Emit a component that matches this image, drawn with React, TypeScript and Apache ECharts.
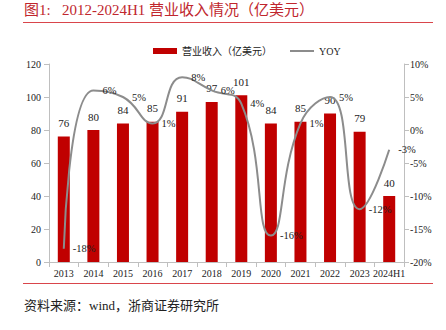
import React, { useEffect, useRef } from "react";
import * as echarts from "echarts";

const categories = ["2013", "2014", "2015", "2016", "2017", "2018", "2019", "2020", "2021", "2022", "2023", "2024H1"];
const revenue = [76, 80, 84, 85, 91, 97, 101, 84, 85, 90, 79, 40];
const yoy = [-18, 6, 5, 1, 8, 6, 4, -16, 1, 5, -12, -3];
const leftTicks = { min: 0, max: 120, interval: 20 };
const rightTicks = { min: -20, max: 10, interval: 5 };

const titleText = "图1:   2012-2024H1 营业收入情况（亿美元）";
const sourceText = "资料来源：wind，浙商证券研究所";
const revenueName = "营业收入（亿美元）";
const yoyName = "YOY";

const FONT = "'Liberation Serif', 'Times New Roman', 'Noto Sans CJK SC', serif";
const RED = "#c00000";

export default function App() {
  const ref = useRef<HTMLDivElement>(null);
  useEffect(() => {
    const chart = echarts.init(ref.current!, null, { renderer: "svg" });
    chart.setOption({
      animation: false,
      backgroundColor: "#ffffff",
      textStyle: { fontFamily: FONT },
      graphic: [
        {
          type: "text",
          left: 24,
          top: 2,
          style: { text: titleText, fill: "#c0262d", font: `15px ${FONT}` },
        },
        {
          type: "line",
          shape: { x1: 23, y1: 22.5, x2: 433, y2: 22.5 },
          style: { stroke: "#d9454b", lineWidth: 1 },
        },
        {
          type: "line",
          shape: { x1: 23, y1: 283.5, x2: 433, y2: 283.5 },
          style: { stroke: "#d9454b", lineWidth: 1 },
        },
        {
          type: "text",
          left: 24,
          top: 299,
          style: { text: sourceText, fill: "#222", font: `13px ${FONT}` },
        },
      ],
      legend: {
        top: 41,
        left: 148,
        itemGap: 18,
        itemWidth: 24,
        itemHeight: 6,
        textStyle: { fontFamily: FONT, fontSize: 10, color: "#222" },
        data: [
          { name: revenueName, icon: "rect" },
          { name: yoyName, icon: "path://M0,0H24V2H0Z" },
        ],
      },
      grid: { left: 49, right: 42, top: 64, bottom: 68 },
      xAxis: {
        type: "category",
        data: categories,
        axisLine: { lineStyle: { color: "#bfbfbf" } },
        axisTick: { show: true, alignWithLabel: false, lineStyle: { color: "#bfbfbf" } },
        axisLabel: { color: "#222", fontSize: 10, fontFamily: FONT, margin: 6, interval: 0 },
      },
      yAxis: [
        {
          type: "value",
          min: leftTicks.min,
          max: leftTicks.max,
          interval: leftTicks.interval,
          splitLine: { show: false },
          axisLine: { show: true, lineStyle: { color: "#bfbfbf" } },
          axisTick: { show: true, lineStyle: { color: "#bfbfbf" } },
          axisLabel: { color: "#222", fontSize: 10, fontFamily: FONT, margin: 8 },
        },
        {
          type: "value",
          min: rightTicks.min,
          max: rightTicks.max,
          interval: rightTicks.interval,
          splitLine: { show: false },
          axisLine: { show: true, lineStyle: { color: "#bfbfbf" } },
          axisTick: { show: true, lineStyle: { color: "#bfbfbf" } },
          axisLabel: { color: "#222", fontSize: 10, fontFamily: FONT, margin: 6, formatter: "{value}%" },
        },
      ],
      series: [
        {
          name: revenueName,
          type: "bar",
          data: revenue,
          barWidth: 12,
          itemStyle: { color: RED },
          label: { show: true, position: "top", color: "#222", fontSize: 11, fontFamily: FONT, distance: 8 },
        },
        {
          name: yoyName,
          type: "line",
          yAxisIndex: 1,
          data: yoy,
          smooth: 0.5,
          symbol: "circle",
          symbolSize: 0.1,
          showSymbol: true,
          lineStyle: { color: "#8c8c8c", width: 2 },
          itemStyle: { color: "#8c8c8c" },
          label: {
            show: true,
            position: "right",
            offset: [4, 0],
            color: "#222",
            fontSize: 10.5,
            fontFamily: FONT,
            formatter: "{c}%",
          },
        },
      ],
    });
    return () => chart.dispose();
  }, []);
  return <div ref={ref} style={{ width: 446, height: 330, position: "absolute", left: 0, top: 0 }} />;
}
